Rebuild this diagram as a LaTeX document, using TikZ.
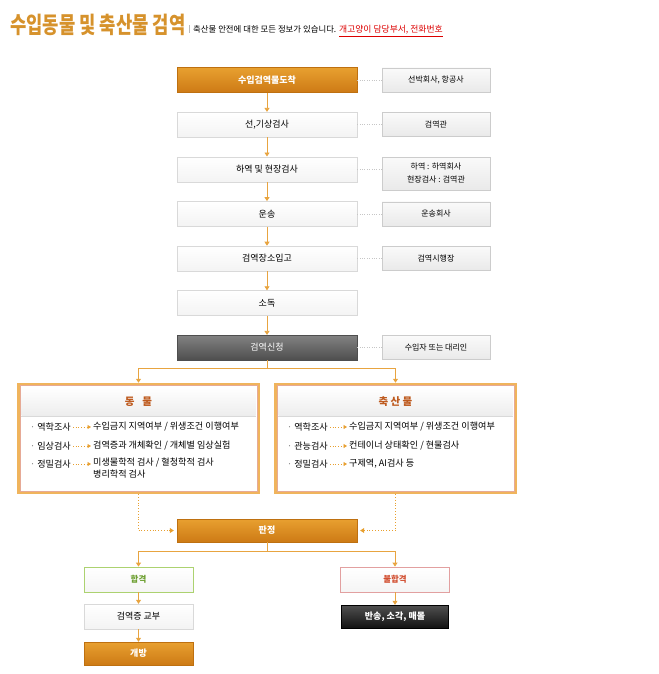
\documentclass[tikz,border=0pt]{standalone}
\usepackage{fontspec}
\setmainfont{Noto Sans CJK KR}
\usepackage{graphicx}
\usetikzlibrary{arrows.meta,positioning,calc,shadows}
\definecolor{kqorangetop}{RGB}{232,160,48}
\definecolor{kqorangebot}{RGB}{205,122,21}
\definecolor{kqorangeedge}{RGB}{190,112,16}
\definecolor{kqtitle}{RGB}{214,146,44}
\definecolor{kqline}{RGB}{232,164,64}
\definecolor{kqframe}{RGB}{240,180,92}
\definecolor{kqinner}{RGB}{230,170,150}
\definecolor{kqhead}{RGB}{190,90,30}
\definecolor{kqgreen}{RGB}{110,160,50}
\definecolor{kqgreenline}{RGB}{172,210,112}
\definecolor{kqred}{RGB}{210,80,50}
\definecolor{kqredline}{RGB}{226,160,160}
\definecolor{kqlink}{RGB}{220,0,0}
\definecolor{kqdarktop}{RGB}{130,130,130}
\definecolor{kqdarkbot}{RGB}{78,78,78}
\definecolor{kqblacktop}{RGB}{80,80,80}
\definecolor{kqblackbot}{RGB}{18,18,18}

\begin{document}
\begin{tikzpicture}[x=1pt,y=-1pt,
  every node/.style={font=\fontsize{9}{11}\selectfont, inner sep=1pt},
  softshadow/.style={drop shadow={opacity=0.18,shadow xshift=0.8pt,shadow yshift=-0.8pt}},
  box/.style={draw=gray!30, top color=white, bottom color=gray!9, minimum width=180pt, minimum height=25pt, softshadow},
  orangebox/.style={draw=kqorangeedge, top color=kqorangetop, bottom color=kqorangebot, text=white, font=\fontsize{9}{11}\selectfont\bfseries, minimum width=180pt, minimum height=25pt, softshadow},
  darkbox/.style={draw=kqdarkbot, top color=kqdarktop, bottom color=kqdarkbot, text=white, minimum width=180pt, minimum height=25pt, softshadow},
  blackbox/.style={draw=black, top color=kqblacktop, bottom color=kqblackbot, text=white, font=\fontsize{9}{11}\selectfont\bfseries, minimum width=107pt, minimum height=23pt, softshadow},
  sidebox/.style={draw=gray!40, top color=gray!4, bottom color=gray!17, font=\fontsize{8}{13}\selectfont, minimum width=108pt, minimum height=24pt, softshadow},
  passbox/.style={draw=kqgreenline, line width=0.8pt, top color=white, bottom color=gray!8, text=kqgreen, font=\fontsize{8.5}{11}\selectfont\bfseries, minimum width=109pt, minimum height=25pt},
  failbox/.style={draw=kqredline, line width=0.8pt, top color=white, bottom color=gray!8, text=kqred, font=\fontsize{8.5}{11}\selectfont\bfseries, minimum width=109pt, minimum height=25pt},
  bigframe/.style={draw=kqframe, line width=2.5pt, fill=white, minimum width=240pt, minimum height=109pt, softshadow},
  hdrbox/.style={top color=white, bottom color=gray!14, text=kqhead, font=\fontsize{10.5}{12}\selectfont\bfseries, minimum width=234pt, minimum height=28pt},
  item/.style={anchor=west, inner sep=0pt, font=\fontsize{9.1}{11.5}\selectfont},
  desc/.style={anchor=west, inner sep=0pt, font=\fontsize{9.1}{11.5}\selectfont},
  flow/.style={draw=kqline, line width=0.8pt, -{Triangle[width=5pt,length=4pt]}},
  sidelink/.style={draw=gray!45, dotted},
  dotflow/.style={draw=kqorangetop, line width=0.8pt, dotted, -{Triangle[width=5pt,length=4pt]}, shorten >=3pt},
  itemarrow/.style={draw=kqorangetop, line width=0.7pt, dotted, -{Triangle[width=4pt,length=3.5pt]}, shorten <=2pt, shorten >=2pt}
]
\useasboundingbox (0,0) rectangle (658,674);

% title line
\node[anchor=west, inner sep=0pt, text=kqtitle, font=\fontsize{23}{23}\selectfont\bfseries] (title) at (10,25) {\scalebox{0.77}[1]{수입동물 및 축산물 검역}};
\draw[gray!55] (189,25) -- (189,33);
\node[anchor=base west, inner sep=0pt, font=\fontsize{8.4}{9}\selectfont] (subtitle) at (193,33) {축산물 안전에 대한 모든 정보가 있습니다.};
\node[anchor=base west, inner sep=0pt, text=kqlink, font=\fontsize{8.8}{9}\selectfont] (contact) at (339,33) {\underline{개고양이 담당부서, 전화번호}};

% main column
\node[orangebox] (arrive) at (267,80) {수입검역물도착};
\node[box] (ship) at (267,124.6) {선,기상검사};
\node[box] (unload) at (267,169.2) {하역 및 현장검사};
\node[box] (transport) at (267,213.8) {운송};
\node[box] (store) at (267,258.4) {검역장소입고};
\node[box] (disinfect) at (267,303) {소독};
\node[darkbox] (apply) at (267,347.6) {검역신청};

% side column
\node[sidebox] (carrier) at (436,80) {선박회사, 항공사};
\node[sidebox] (officer) at (436,124.6) {검역관};
\node[sidebox, minimum height=33pt, align=center] (unloader) at (436,173.5) {하역 : 하역회사\\현장검사 : 검역관};
\node[sidebox] (transporter) at (436,213.8) {운송회사};
\node[sidebox] (site) at (436,258.4) {검역시행장};
\node[sidebox] (importer) at (436,347.6) {수입자 또는 대리인};

\foreach \a/\b in {arrive/ship, ship/unload, unload/transport, transport/store, store/disinfect, disinfect/apply}
  \draw[flow] (\a) -- (\b);
\foreach \a/\b in {arrive/carrier, ship/officer, transport/transporter, store/site, apply/importer}
  \draw[sidelink] (\a.east) -- (\b.west);
\draw[sidelink] (unload.east) -- (unload.east -| unloader.west);

% inspection frames
\node[bigframe] (animal) at (138.5,438.5) {};
\node[bigframe] (product) at (395.5,438.5) {};
\foreach \f in {animal, product}
  \draw[kqinner, line width=0.4pt] ([shift={(2.7pt,-2.7pt)}]\f.north west) rectangle ([shift={(-2.7pt,2.7pt)}]\f.south east);
\node[hdrbox] (animalhead) at (138.5,401.5) {동\hspace{8pt}물};
\node[hdrbox] (producthead) at (395.5,401.5) {축 산 물};
\draw[gray!30] (animalhead.south west) -- (animalhead.south east);
\draw[gray!30] (producthead.south west) -- (producthead.south east);

\coordinate (fork) at (267,368);
\draw[kqline, line width=0.8pt] (apply.south) -- (fork);
\draw[flow] (fork) -| (animal.north);
\draw[flow] (fork) -| (product.north);

% animal items
\node[item] (alab1) at (30,427) {\textcolor{gray}{·} 역학조사};
\node[desc] (adesc1) at (93,427) {수입금지 지역여부 / 위생조건 이행여부};
\node[item] (alab2) at (30,446) {\textcolor{gray}{·} 임상검사};
\node[desc] (adesc2) at (93,446) {검역증과 개체확인 / 개체별 임상실험};
\node[item] (alab3) at (30,464) {\textcolor{gray}{·} 정밀검사};
\node[desc, anchor=north west, align=left] (adesc3) at (93,458) {미생물학적 검사 / 혈청학적 검사\\병리학적 검사};
\foreach \i in {1,2}
  \draw[itemarrow] (alab\i.east) -- (adesc\i.west);
\draw[itemarrow] (alab3.east) -- (alab3.east -| adesc3.west);

% product items
\node[item] (plab1) at (287,427) {\textcolor{gray}{·} 역학조사};
\node[desc] (pdesc1) at (349,427) {수입금지 지역여부 / 위생조건 이행여부};
\node[item] (plab2) at (287,446) {\textcolor{gray}{·} 관능검사};
\node[desc] (pdesc2) at (349,446) {컨테이너 상태확인 / 현물검사};
\node[item] (plab3) at (287,464) {\textcolor{gray}{·} 정밀검사};
\node[desc] (pdesc3) at (349,464) {구제역, AI검사 등};
\foreach \i in {1,2,3}
  \draw[itemarrow] (plab\i.east) -- (pdesc\i.west);

% verdict
\node[orangebox, minimum height=23pt] (judge) at (267,530.5) {판정};
\draw[dotflow] (animal.south) |- (judge.west);
\draw[dotflow] (product.south) |- (judge.east);

\node[passbox] (pass) at (138.5,579.5) {합격};
\node[failbox] (fail) at (395,579.5) {불합격};
\node[box, minimum width=109pt] (cert) at (138.5,616.5) {검역증 교부};
\node[orangebox, minimum width=109pt, minimum height=23pt] (release) at (138.5,653.5) {개방};
\node[blackbox] (dispose) at (395,616.5) {반송, 소각, 매몰};

\coordinate (verdict) at (267,551);
\draw[kqline, line width=0.8pt] (judge.south) -- (verdict);
\draw[flow] (verdict) -| (pass.north);
\draw[flow] (verdict) -| (fail.north);
\draw[flow] (pass) -- (cert);
\draw[flow] (cert) -- (release);
\draw[flow] (fail) -- (dispose);
\end{tikzpicture}
\end{document}
